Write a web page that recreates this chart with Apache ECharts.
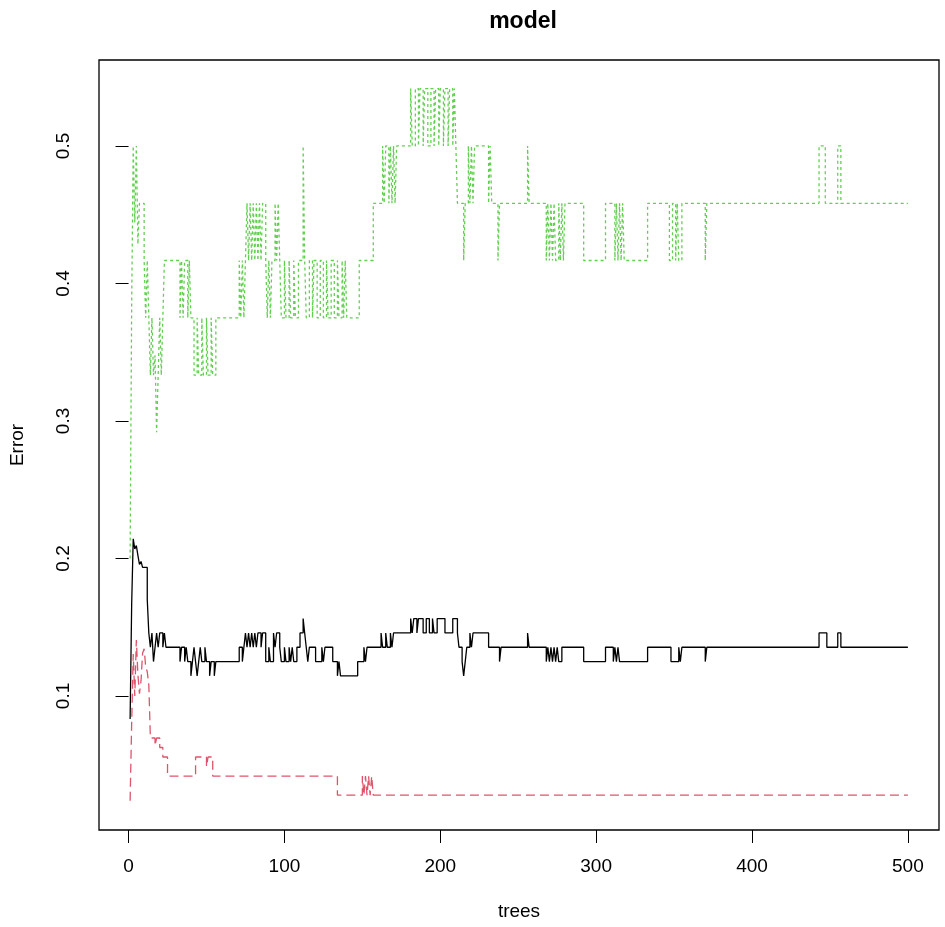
<!DOCTYPE html>
<html>
<head>
<meta charset="utf-8">
<script src="https://cdn.jsdelivr.net/npm/echarts@6/dist/echarts.min.js"></script>
<style>
  html, body { margin: 0; padding: 0; background: #fff; }
  #chart { width: 945px; height: 927px; }
</style>
</head>
<body>
<div id="chart"></div>
<script>
const FONT = '"Liberation Sans", Arial, Helvetica, sans-serif';

// step change points: value holds from that tree on
const oobTrees = [1, 2, 3, 4, 5, 6, 7, 8, 9, 12, 13, 14, 15, 16, 17, 18, 19, 20, 22, 23, 24,
  33, 34, 36, 37, 38, 40, 41, 42, 43, 44, 45, 46, 47, 49, 50, 52, 53, 55, 56,
  71, 73, 74, 75, 76, 77, 78, 79, 80, 81, 82, 83, 85, 86, 88, 90, 91, 93, 94, 95, 97, 98,
  100, 101, 103, 104, 105, 106, 108, 110, 112, 113, 114, 115, 116, 120, 124, 125, 126,
  131, 134, 135, 136, 147, 151, 152, 153, 162, 163, 165, 166, 168, 169, 170,
  181, 182, 183, 185, 186, 189, 191, 193, 195, 196, 198, 203, 208, 211, 212, 214, 215,
  216, 217, 219, 220, 221, 231, 238, 239, 256, 257, 268, 269, 270, 271, 272, 273, 274,
  275, 276, 278, 292, 306, 311, 312, 313, 314, 315, 318, 333, 348, 353, 354, 355,
  370, 371, 443, 448, 455, 457, 500];
const oobErr = [0.0833, 0.1667, 0.2143, 0.2069, 0.2093, 0.2022, 0.1957, 0.1978, 0.1935, 0.1702,
  0.1458, 0.1354, 0.1458, 0.125, 0.1354, 0.1458, 0.1354, 0.1458, 0.1354, 0.1458, 0.1354,
  0.125, 0.1354, 0.125, 0.1354, 0.125, 0.1146, 0.125, 0.1354, 0.125, 0.1146, 0.125, 0.1354,
  0.125, 0.1354, 0.125, 0.1146, 0.125, 0.1146, 0.125,
  0.1354, 0.125, 0.1354, 0.1458, 0.1354, 0.1458, 0.1354, 0.1458, 0.1354, 0.1458, 0.1354,
  0.1458, 0.1354, 0.1458, 0.125, 0.1354, 0.125, 0.1458, 0.1354, 0.1458, 0.1354, 0.125,
  0.1354, 0.125, 0.1354, 0.125, 0.1354, 0.125, 0.1354, 0.1458, 0.1563, 0.1458, 0.1354,
  0.125, 0.1354, 0.125, 0.1354, 0.125, 0.1354,
  0.125, 0.1146, 0.125, 0.1146, 0.125, 0.1354, 0.125, 0.1354, 0.1458, 0.1354, 0.1458,
  0.1354, 0.1458, 0.1354, 0.1458,
  0.1563, 0.1458, 0.1563, 0.1458, 0.1563, 0.1458, 0.1563, 0.1458, 0.1563, 0.1458, 0.1563,
  0.1458, 0.1563, 0.1458, 0.1354, 0.125, 0.1146,
  0.125, 0.1354, 0.1458, 0.1354, 0.1458, 0.1354, 0.125, 0.1354, 0.1458, 0.1354, 0.125,
  0.1354, 0.125, 0.1354, 0.125, 0.1354, 0.125,
  0.1354, 0.125, 0.1354, 0.125, 0.1354, 0.125, 0.1354, 0.125, 0.1354, 0.125, 0.125,
  0.1354, 0.125, 0.1354, 0.125, 0.1354,
  0.125, 0.1354, 0.1458, 0.1354, 0.1458, 0.1354, 0.1354];

const class1Trees = [1, 2, 3, 4, 5, 6, 7, 8, 9, 10, 11, 12, 13, 14, 17, 18, 20, 22, 25,
  43, 50, 51, 54, 134, 150, 151, 152, 153, 154, 155, 156, 157, 500];
const class1Err = [0.0238, 0.08, 0.1304, 0.1, 0.1406, 0.1154, 0.1017, 0.1111, 0.1311, 0.1343,
  0.1212, 0.1176, 0.1081, 0.0694, 0.0638, 0.0694, 0.0625, 0.0556, 0.0417,
  0.0556, 0.0486, 0.0556, 0.0417, 0.0278, 0.0417, 0.0278, 0.0417, 0.0278, 0.0417, 0.0278,
  0.0417, 0.0278, 0.0278];

// one row of trees lines up with the row of values below it
const class2Trees = [
  1, 2, 3, 4, 5, 6, 7, 10, 11, 12,
  13, 14, 15, 16, 17, 18, 19, 20, 21, 22,
  23, 33, 34, 35, 36, 38, 39, 40, 42, 44,
  45, 47, 48, 50, 51, 53, 54, 56, 71, 72,
  73, 74, 75, 76, 77, 78, 79, 80, 81, 82,
  83, 84, 85, 86, 88, 89, 90, 91, 92, 94,
  95, 96, 97, 98, 100, 101, 103, 104, 106, 107,
  109, 112, 113, 114, 116, 118, 119, 121, 123, 125,
  127, 128, 130, 132, 134, 135, 137, 138, 139, 140,
  148, 157, 163, 164, 165, 167, 168, 169, 170, 171,
  172, 181, 182, 184, 186, 187, 189, 190, 192, 194,
  196, 197, 199, 200, 202, 203, 205, 206, 208, 209,
  210, 211, 215, 216, 218, 219, 220, 221, 222, 231,
  232, 233, 237, 238, 256, 257, 268, 269, 270, 271,
  272, 273, 274, 276, 277, 278, 279, 280, 292, 306,
  312, 313, 314, 315, 316, 317, 318, 333, 347, 349,
  351, 352, 353, 355, 370, 371, 443, 447, 455, 457,
  500];
const class2Err = [
  0.2, 0.3846, 0.5, 0.4444, 0.5, 0.4286, 0.4583, 0.4167, 0.375, 0.4167,
  0.375, 0.3333, 0.375, 0.3333, 0.3478, 0.2917, 0.3333, 0.375, 0.3333, 0.375,
  0.4167, 0.375, 0.4167, 0.375, 0.4167, 0.375, 0.4167, 0.375, 0.3333, 0.375,
  0.3333, 0.375, 0.3333, 0.375, 0.3333, 0.375, 0.3333, 0.375, 0.4167, 0.375,
  0.4167, 0.375, 0.4167, 0.4583, 0.4167, 0.4583, 0.4167, 0.4583, 0.4167, 0.4583,
  0.4167, 0.4583, 0.4167, 0.4583, 0.4167, 0.375, 0.4167, 0.375, 0.4167, 0.4583,
  0.4167, 0.4583, 0.4167, 0.375, 0.4167, 0.375, 0.4167, 0.375, 0.4167, 0.375,
  0.4167, 0.5, 0.4167, 0.375, 0.4167, 0.375, 0.4167, 0.375, 0.4167, 0.375,
  0.4167, 0.375, 0.4167, 0.375, 0.4167, 0.375, 0.4167, 0.375, 0.4167, 0.375,
  0.4167, 0.4583, 0.5, 0.4583, 0.5, 0.4583, 0.5, 0.4583, 0.5, 0.4583,
  0.5, 0.5417, 0.5, 0.5417, 0.5, 0.5417, 0.5, 0.5417, 0.5, 0.5417,
  0.5, 0.5417, 0.5, 0.5417, 0.5, 0.5417, 0.5, 0.5417, 0.5, 0.5417,
  0.5, 0.4583, 0.4167, 0.4583, 0.5, 0.4583, 0.5, 0.4583, 0.5, 0.4583,
  0.5, 0.4583, 0.4167, 0.4583, 0.5, 0.4583, 0.4167, 0.4583, 0.4167, 0.4583,
  0.4167, 0.4583, 0.4167, 0.4583, 0.4167, 0.4583, 0.4167, 0.4583, 0.4167, 0.4583,
  0.4167, 0.4583, 0.4167, 0.4583, 0.4167, 0.4583, 0.4167, 0.4583, 0.4167, 0.4583,
  0.4167, 0.4583, 0.4167, 0.4583, 0.4167, 0.4583, 0.5, 0.4583, 0.5, 0.4583,
  0.4583];

const xTicks = [0, 100, 200, 300, 400, 500];
const yTicks = [0.1, 0.2, 0.3, 0.4, 0.5];

const pairs = (xs, ys) => xs.map((x, i) => [x, ys[i]]);

const chart = echarts.init(document.getElementById('chart'), null, { renderer: 'canvas' });

const axisCommon = {
    axisLine: { show: false },
    axisTick: { show: true, length: 13, lineStyle: { color: '#000', width: 1 } },
    splitLine: { show: false },
};

chart.setOption({
    animation: false,
    title: {
        text: 'model',
        left: 518,
        top: 5,
        textAlign: 'center',
        textStyle: { fontFamily: FONT, fontSize: 23, fontWeight: 'bold', color: '#000' },
    },
    grid: {
        left: 98, top: 60, right: 6, bottom: 97,
        show: true, borderColor: '#000', borderWidth: 1.3, backgroundColor: 'transparent',
    },
    xAxis: {
        type: 'value',
        min: -18.96,
        max: 519.96,
        name: 'trees',
        nameLocation: 'middle',
        nameGap: 72,
        nameTextStyle: { fontFamily: FONT, fontSize: 19, color: '#000' },
        ...axisCommon,
        axisTick: { ...axisCommon.axisTick, customValues: xTicks },
        axisLabel: {
            customValues: xTicks,
            margin: 27,
            fontFamily: FONT, fontSize: 19, color: '#000',
        },
    },
    yAxis: {
        type: 'value',
        min: 0.0025,
        max: 0.5625,
        name: 'Error',
        nameLocation: 'middle',
        nameGap: 72,
        nameRotate: 90,
        nameTextStyle: { fontFamily: FONT, fontSize: 19, color: '#000' },
        ...axisCommon,
        axisTick: { ...axisCommon.axisTick, customValues: yTicks },
        axisLabel: {
            customValues: yTicks,
            rotate: 90,
            margin: 26,
            fontFamily: FONT, fontSize: 19, color: '#000',
            formatter: v => String(v),
        },
    },
    series: [
        {
            name: 'OOB',
            type: 'line',
            step: 'end',
            symbol: 'none',
            data: pairs(oobTrees, oobErr),
            lineStyle: { color: '#000000', width: 1.3, type: 'solid' },
        },
        {
            name: '1',
            type: 'line',
            step: 'end',
            symbol: 'none',
            data: pairs(class1Trees, class1Err),
            lineStyle: { color: '#DF536B', width: 1.3, type: [9, 5] },
        },
        {
            name: '2',
            type: 'line',
            step: 'end',
            symbol: 'none',
            data: pairs(class2Trees, class2Err),
            lineStyle: { color: '#61D04F', width: 1.3, type: [3, 3] },
        },
    ],
});

window.addEventListener('resize', () => chart.resize());
</script>
</body>
</html>
